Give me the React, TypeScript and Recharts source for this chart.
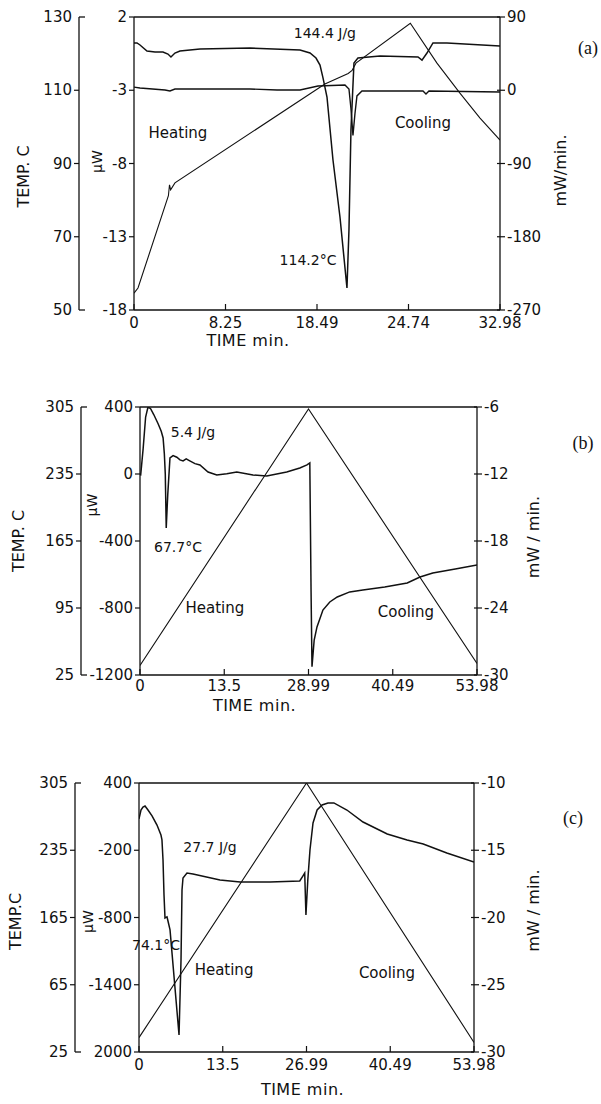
import React from 'react'
import { LineChart, Line, XAxis, YAxis, ReferenceLine, ReferenceDot } from 'recharts'

type Pt = [number, number]

const FONT = '"DejaVu Sans", "Liberation Sans", sans-serif'
const INK = '#111'

// ---------- panel (a) : time in min, temp in C, heat flow in uW / mW/min
const A_SPAN = 32.98
const A_TIME_TICKS = [0, 8.245, 16.49, 24.735, 32.98]
const A_TIME_LABELS = ['0', '8.25', '18.49', '24.74', '32.98']
const A_TEMP_TICKS = [130, 110, 90, 70, 50]
const A_TEMP_LABELS = ['130', '110', '90', '70', '50']
const A_UW_TICKS = [2, -3, -8, -13, -18]
const A_UW_LABELS = ['2', '-3', '-8', '-13', '-18']
const A_MW_TICKS = [90, 0, -90, -180, -270]
const A_MW_LABELS = ['90', '0', '-90', '-180', '-270']

const A_TEMP: Pt[] = [
  [0, 54.6], [0.36, 56.0], [3.1, 81.2], [3.2, 84.2], [3.3, 82.8], [3.69, 84.7],
  [17.2, 111.7], [19.3, 114.6], [19.65, 115.4], [20.0, 117.4], [24.9, 128.3],
  [27.3, 117.4], [29.37, 109.2], [31.18, 102.4], [32.98, 96.4],
]
const A_UW: Pt[] = [
  [0, 0.23], [0.27, 0.23], [0.54, 0.09], [1.17, -0.32], [1.89, -0.39], [2.61, -0.39],
  [3.06, -0.53], [3.33, -0.73], [3.69, -0.46], [4.14, -0.32], [5.95, -0.18], [10.45, -0.12],
  [14.96, -0.25], [15.86, -0.46], [16.4, -0.8], [16.76, -1.28], [17.03, -2.16], [17.39, -3.46],
  [17.93, -7.76], [18.56, -11.65], [19.19, -16.5], [19.37, -12.54], [19.55, -5.71],
  [19.82, -1.14], [20.18, -0.8], [22.17, -0.66], [25.59, -0.73], [25.95, -0.94],
  [26.4, -0.46], [26.94, 0.23], [28.2, 0.23], [32.98, 0.02],
]
const A_MW: Pt[] = [
  [0, 3.9], [0.54, 2.7], [2.79, 0.3], [3.24, -0.9], [3.69, 1.5], [10.45, 1.5], [12.89, 0.3],
  [14.96, 0.3], [16.58, 5.2], [19.01, 6.4], [19.37, 1.5], [19.55, -22.7], [19.73, -55.5],
  [19.91, -28.8], [20.09, -7.0], [20.54, -0.9], [26.04, -0.9], [26.31, -4.5], [26.58, -0.9],
  [32.98, -2.1],
]
const A_NOTES = [
  { text: '144.4 J/g', t: 17.2, v: 0.91, size: 14 },
  { text: 'Heating', t: 3.96, v: -5.92, size: 15 },
  { text: 'Cooling', t: 26.04, v: -5.24, size: 15 },
  { text: '114.2°C', t: 15.68, v: -14.59, size: 14 },
]

// ---------- panel (b)
const B_SPAN = 53.98
const B_TIME_TICKS = [0, 13.495, 26.99, 40.485, 53.98]
const B_TIME_LABELS = ['0', '13.5', '28.99', '40.49', '53.98']
const B_TEMP_TICKS = [305, 235, 165, 95, 25]
const B_TEMP_LABELS = ['305', '235', '165', '95', '25']
const B_UW_TICKS = [400, 0, -400, -800, -1200]
const B_UW_LABELS = ['400', '0', '-400', '-800', '-1200']
const B_MW_TICKS = [-6, -12, -18, -24, -30]
const B_MW_LABELS = ['-6', '-12', '-18', '-24', '-30']

const B_TEMP: Pt[] = [[0, 35], [26.99, 303], [53.98, 37]]
const B_UW: Pt[] = [
  [0.1, -10], [0.5, 150], [0.9, 340], [1.28, 400], [1.7, 390], [2.2, 355], [2.9, 300],
  [3.4, 255], [3.7, 215], [3.9, 120], [4.05, 0], [4.2, -322], [4.45, -120], [4.8, 96],
  [5.3, 110], [5.9, 100], [6.4, 84], [6.9, 78], [7.4, 90], [7.9, 80], [8.8, 62], [9.6, 54],
  [10.9, 12], [12.3, -6], [13.9, 2], [15.5, 12], [18.1, -6], [20.3, -12], [23.5, 12],
  [25.6, 36], [26.75, 54], [27.2, 66], [27.4, -700], [27.55, -1150], [27.9, -991],
  [28.35, -913], [29.3, -812], [30.4, -764], [31.6, -734], [33.6, -704], [35.7, -693],
  [39.2, -675], [42.8, -651], [44.85, -615], [46.9, -591], [50.5, -567], [53.98, -543],
]
const B_NOTES = [
  { text: '5.4 J/g', t: 8.49, v: 251, size: 14 },
  { text: '67.7°C', t: 6.09, v: -436, size: 14 },
  { text: 'Heating', t: 12.0, v: -800, size: 15 },
  { text: 'Cooling', t: 42.6, v: -824, size: 15 },
]

// ---------- panel (c)
const C_SPAN = 53.98
const C_TIME_TICKS = [0, 13.495, 26.99, 40.485, 53.98]
const C_TIME_LABELS = ['0', '13.5', '26.99', '40.49', '53.98']
const C_TEMP_TICKS = [305, 235, 165, 95, 25]
const C_TEMP_LABELS = ['305', '235', '165', '65', '25']
const C_UW_TICKS = [400, -200, -800, -1400, -2000]
const C_UW_LABELS = ['400', '-200', '-800', '-1400', '2000']
const C_MW_TICKS = [-10, -15, -20, -25, -30]
const C_MW_LABELS = ['-10', '-15', '-20', '-25', '-30']

const C_TEMP: Pt[] = [[0, 40], [26.99, 305], [53.98, 35]]
const C_UW: Pt[] = [
  [0, 80], [0.32, 159], [0.64, 186], [0.97, 195], [1.45, 159], [2.1, 106], [2.9, 25],
  [3.54, -64], [3.7, -108], [3.87, -287], [4.03, -599], [4.19, -804], [4.51, -795],
  [4.67, -831], [5.0, -911], [6.45, -1848], [6.77, -1179], [6.93, -554], [7.09, -447],
  [7.73, -403], [8.7, -412], [13.05, -465], [16.3, -483], [21.1, -483], [25.9, -474],
  [26.4, -430], [26.7, -403], [26.9, -778], [27.2, -465], [27.55, -198], [28.04, 43],
  [28.7, 159], [29.5, 204], [30.45, 222], [31.4, 222], [33.5, 159], [36.1, 52], [40.0, -55],
  [43.2, -108], [45.8, -144], [49.6, -224], [53.98, -305],
]
const C_NOTES = [
  { text: '27.7 J/g', t: 11.44, v: -171, size: 14 },
  { text: '74.1°C', t: 2.74, v: -1045, size: 14 },
  { text: 'Heating', t: 13.7, v: -1268, size: 15 },
  { text: 'Cooling', t: 39.96, v: -1295, size: 15 },
]

const toRows = (pts: Pt[]) => pts.map(([t, v]) => ({ t, v }))

const AXIS = { stroke: INK, strokeWidth: 1.3 }

function TimeTick(props: any) {
  const { x, y, payload, ticks, labels, gap } = props
  const i = ticks.indexOf(payload.value)
  return (
    <g>
      <line x1={x} y1={y} x2={x} y2={y - 6} stroke={INK} strokeWidth={1.2} />
      <text x={x} y={y + gap} textAnchor="middle" dominantBaseline="central"
        fontFamily={FONT} fontSize={15} fill={INK}>{labels[i] ?? payload.value}</text>
    </g>
  )
}

function SideTick(props: any) {
  const { x, y, payload, ticks, labels, side, bracket } = props
  const i = ticks.indexOf(payload.value)
  const end = bracket && (i === 0 || i === ticks.length - 1)
  const s = side === 'left' ? -1 : 1
  return (
    <g>
      {end
        ? <line x1={x} y1={y} x2={x + 6} y2={y} stroke={INK} strokeWidth={1.3} />
        : <line x1={x - 3 * (s > 0 ? 1 : 0)} y1={y} x2={x + s * 5} y2={y} stroke={INK} strokeWidth={1.2} />}
      <text x={x + s * 7} y={y} textAnchor={side === 'left' ? 'end' : 'start'} dominantBaseline="central"
        fontFamily={FONT} fontSize={15} fill={INK}>{labels[i] ?? payload.value}</text>
    </g>
  )
}

// rotated axis title, placed from the axis box that recharts hands over
function VTitle(props: any) {
  const { viewBox, text, at = 0, dy = 0, size = 16 } = props
  if (!viewBox) return null
  const x = viewBox.x + at
  const y = viewBox.y + viewBox.height / 2 + dy
  return (
    <text x={x} y={y} transform={`rotate(-90 ${x} ${y})`} textAnchor="middle" dominantBaseline="central"
      fontFamily={FONT} fontSize={size} fill={INK}>{text}</text>
  )
}

function HTitle(props: any) {
  const { viewBox, text, dx = 0, dy = 0 } = props
  if (!viewBox) return null
  return (
    <text x={viewBox.x + viewBox.width / 2 + dx} y={viewBox.y + dy} textAnchor="middle" dominantBaseline="central"
      fontFamily={FONT} fontSize={16} letterSpacing={0.5} fill={INK}>{text}</text>
  )
}

const PANELS = [
  {
    tag: '(a)', span: A_SPAN,
    timeTicks: A_TIME_TICKS, timeLabels: A_TIME_LABELS,
    tempTicks: A_TEMP_TICKS, tempLabels: A_TEMP_LABELS,
    uwTicks: A_UW_TICKS, uwLabels: A_UW_LABELS,
    mwTicks: A_MW_TICKS, mwLabels: A_MW_LABELS,
    temp: A_TEMP, uw: A_UW, mw: A_MW, notes: A_NOTES,
    mwTitle: 'mW/min.', tempTitle: 'TEMP. C',
    lay: { top: 0, height: 352, mTop: 17, mRight: 41, tempW: 79, uwW: 55, xH: 42, tickGap: 13,
      tempAt: 23, tempDy: 13, uwAt: 18, uwDy: -2, mwAt: 60, mwDy: 7, timeDx: -69, timeDy: 30,
      tagX: 588, tagY: 48 },
  },
  {
    tag: '(b)', span: B_SPAN,
    timeTicks: B_TIME_TICKS, timeLabels: B_TIME_LABELS,
    tempTicks: B_TEMP_TICKS, tempLabels: B_TEMP_LABELS,
    uwTicks: B_UW_TICKS, uwLabels: B_UW_LABELS,
    mwTicks: B_MW_TICKS, mwLabels: B_MW_LABELS,
    temp: B_TEMP, uw: B_UW, mw: null, notes: B_NOTES,
    mwTitle: 'mW / min.', tempTitle: 'TEMP. C',
    lay: { top: 380, height: 337, mTop: 27, mRight: 64, tempW: 81, uwW: 59, xH: 42, tickGap: 11,
      tempAt: 18, tempDy: 0, uwAt: 11, uwDy: -36, mwAt: 56, mwDy: -4, timeDx: -54, timeDy: 30,
      tagX: 583, tagY: 443 },
  },
  {
    tag: '(c)', span: C_SPAN,
    timeTicks: C_TIME_TICKS, timeLabels: C_TIME_LABELS,
    tempTicks: C_TEMP_TICKS, tempLabels: C_TEMP_LABELS,
    uwTicks: C_UW_TICKS, uwLabels: C_UW_LABELS,
    mwTicks: C_MW_TICKS, mwLabels: C_MW_LABELS,
    temp: C_TEMP, uw: C_UW, mw: null, notes: C_NOTES,
    mwTitle: 'mW / min.', tempTitle: 'TEMP.C',
    lay: { top: 750, height: 352, mTop: 33, mRight: 67, tempW: 75, uwW: 64, xH: 50, tickGap: 13,
      tempAt: 15, tempDy: 4, uwAt: 13, uwDy: 4, mwAt: 59, mwDy: -7, timeDx: -4, timeDy: 37,
      tagX: 573, tagY: 818 },
  },
]

// left axes are stacked by id: "flow" (µW) sits against the plot, "temp" outside it
function Panel({ p }: { p: any }) {
  const L = p.lay
  const range = (ticks: number[]) => [Math.min(...ticks), Math.max(...ticks)]
  return (
    <div style={{ position: 'absolute', left: 0, top: L.top, width: 601, height: L.height }}>
      <LineChart width={601} height={L.height} margin={{ top: L.mTop, right: L.mRight, left: 0, bottom: 0 }}>
        <XAxis type="number" dataKey="t" domain={[0, p.span]} ticks={p.timeTicks} interval={0}
          allowDataOverflow height={L.xH} tickSize={0} tickMargin={0} axisLine={AXIS} tickLine={false}
          tick={(tp: any) => <TimeTick {...tp} ticks={p.timeTicks} labels={p.timeLabels} gap={L.tickGap} />}
          label={<HTitle text="TIME min." dx={L.timeDx} dy={L.timeDy} />} />
        <YAxis yAxisId="flow" type="number" domain={range(p.uwTicks)} ticks={p.uwTicks} interval={0}
          allowDataOverflow width={L.uwW} tickSize={0} tickMargin={0} axisLine={AXIS} tickLine={false}
          tick={(tp: any) => <SideTick {...tp} ticks={p.uwTicks} labels={p.uwLabels} side="left" />}
          label={<VTitle text="μW" at={L.uwAt} dy={L.uwDy} size={14} />} />
        <YAxis yAxisId="temp" type="number" domain={range(p.tempTicks)} ticks={p.tempTicks} interval={0}
          allowDataOverflow width={L.tempW} tickSize={0} tickMargin={0} axisLine={AXIS} tickLine={false}
          tick={(tp: any) => <SideTick {...tp} ticks={p.tempTicks} labels={p.tempLabels} side="left" bracket />}
          label={<VTitle text={p.tempTitle} at={L.tempAt} dy={L.tempDy} />} />
        <YAxis yAxisId="rate" orientation="right" type="number" domain={range(p.mwTicks)} ticks={p.mwTicks}
          interval={0} allowDataOverflow width={60} tickSize={0} tickMargin={0} axisLine={AXIS} tickLine={false}
          tick={(tp: any) => <SideTick {...tp} ticks={p.mwTicks} labels={p.mwLabels} side="right" />}
          label={<VTitle text={p.mwTitle} at={L.mwAt} dy={L.mwDy} />} />

        <ReferenceLine yAxisId="flow" y={Math.max(...p.uwTicks)} stroke={INK} strokeWidth={1.3} />

        <Line yAxisId="temp" data={toRows(p.temp)} dataKey="v" type="linear" dot={false}
          stroke={INK} strokeWidth={1.1} isAnimationActive={false} />
        <Line yAxisId="flow" data={toRows(p.uw)} dataKey="v" type="linear" dot={false}
          stroke={INK} strokeWidth={1.5} isAnimationActive={false} />
        {p.mw && (
          <Line yAxisId="rate" data={toRows(p.mw)} dataKey="v" type="linear" dot={false}
            stroke={INK} strokeWidth={1.4} isAnimationActive={false} />
        )}

        {p.notes.map((n: any) => (
          <ReferenceDot key={n.text} yAxisId="flow" x={n.t} y={n.v} r={0.5} fill="none" stroke="none"
            label={{ value: n.text, position: 'center', fontFamily: FONT, fontSize: n.size, fill: INK }} />
        ))}
      </LineChart>
      <div style={{
        position: 'absolute', left: L.tagX, top: L.tagY - L.top, transform: 'translate(-50%, -50%)',
        fontFamily: '"Liberation Serif", "DejaVu Serif", serif', fontSize: 18, color: INK, lineHeight: 1,
      }}>{p.tag}</div>
    </div>
  )
}

export default function App() {
  return (
    <div style={{ position: 'absolute', left: 0, top: 0, width: 601, height: 1104, background: '#fff' }}>
      {PANELS.map(p => <Panel key={p.tag} p={p} />)}
    </div>
  )
}
